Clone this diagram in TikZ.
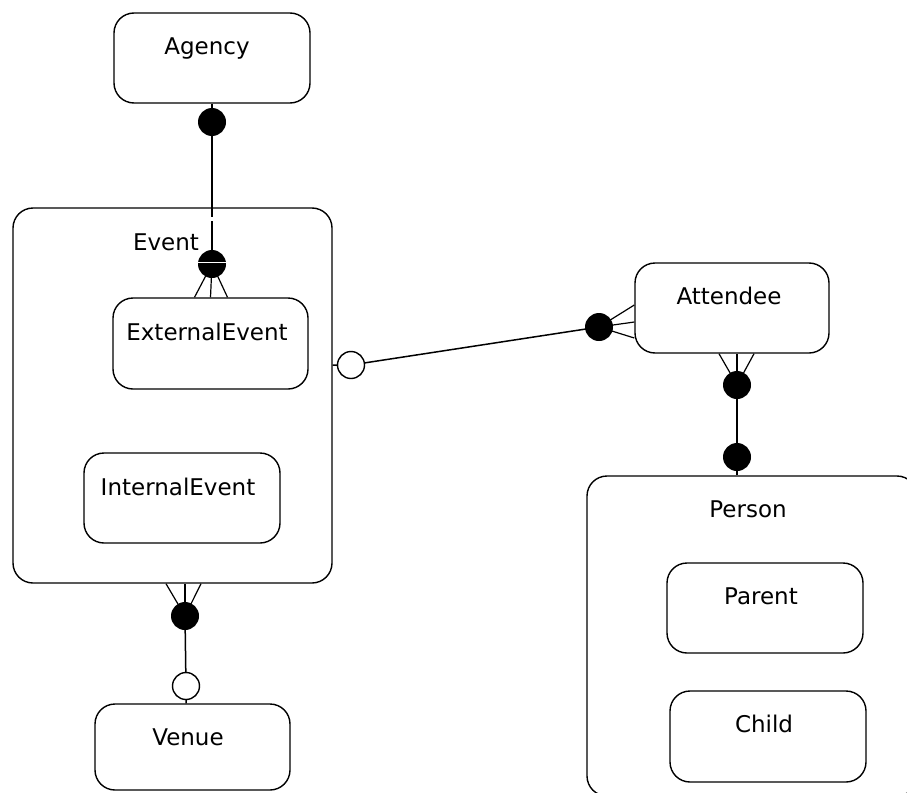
\documentclass[tikz,border=0pt]{standalone}
\usepackage{fontspec}
\setmainfont{DejaVu Sans}
\pgfdeclarelayer{bg}
\pgfsetlayers{bg,main}
\begin{document}
\begin{tikzpicture}[x=1pt,y=-1pt,
  box/.style={draw, line width=1.4pt, rounded corners=20pt, inner sep=0pt},
  txt/.style={font=\fontsize{23}{25}\selectfont, inner sep=0pt, anchor=base},
  one/.style={circle, fill=black, minimum size=28pt, inner sep=0pt},
  zero/.style={circle, draw, fill=white, line width=1.4pt, minimum size=27pt, inner sep=0pt},
  link/.style={line width=1.5pt},
  foot/.style={line width=1.2pt}]
\useasboundingbox (0,0) rectangle (907,792);
\clip (0,0) rectangle (907,792);

% entities
\node[box, minimum width=196pt, minimum height=90pt]  (agency)   at (212,58)    {};
\node[box, minimum width=319pt, minimum height=375pt] (event)    at (172.5,395.5) {};
\node[box, minimum width=195pt, minimum height=91pt]  (ext)      at (210.5,343.5) {};
\node[box, minimum width=196pt, minimum height=90pt]  (int)      at (182,498)   {};
\node[box, minimum width=195pt, minimum height=86pt]  (venue)    at (192.5,747) {};
\node[box, minimum width=194pt, minimum height=90pt]  (attendee) at (732,308)   {};
\node[box, minimum width=330pt, minimum height=320pt] (person)   at (752,636)   {};
\node[box, minimum width=196pt, minimum height=90pt]  (parent)   at (765,608)   {};
\node[box, minimum width=196pt, minimum height=91pt]  (child)    at (768,736.5) {};

% entity names
\node[txt] (agency-t)   at (207,55)  {Agency};
\node[txt] (event-t)    at (166,250) {Event};
\node[txt] (ext-t)      at (207,340) {ExternalEvent};
\node[txt] (int-t)      at (178,495) {InternalEvent};
\node[txt] (venue-t)    at (188,745) {Venue};
\node[txt] (attendee-t) at (729,304) {Attendee};
\node[txt] (person-t)   at (748,517) {Person};
\node[txt] (parent-t)   at (761,604) {Parent};
\node[txt] (child-t)    at (764,732) {Child};

% cardinality markers
\node[one]  (agA)  at (212,122) {};
\node[one]  (agE)  at (212,264) {};
\node[zero] (evO)  at (351,365) {};
\node[one]  (attL) at (599,327) {};
\node[one]  (attB) at (737,385) {};
\node[one]  (perT) at (737,457) {};
\node[one]  (evB)  at (185,616) {};
\node[zero] (venO) at (186,686) {};

% bar across the mandatory-one marker
\draw[white, line width=1.6pt] ([yshift=1.5pt]agE.west) -- ([yshift=1.5pt]agE.east);

\coordinate (attS) at (attB |- attendee.south);
\coordinate (evS)  at (evB |- event.south);
\coordinate (gap)  at (agA |- event.north);

\begin{pgfonlayer}{bg}
  % Agency -- ExternalEvent
  \draw[link] (agency.south) -- (agE.center);
  \draw[foot] (agE.center) -- ([xshift=-16pt]ext.north);
  \draw[foot] (agE.center) -- (ext.north);
  \draw[foot] (agE.center) -- ([xshift=17pt]ext.north);
  % Event -- Attendee
  \draw[link] (event.east |- evO) -- (evO.center) -- (attL.center);
  \draw[foot] (attL.center) -- ([yshift=3pt]attendee.west);
  \draw[foot] (attL.center) -- ([yshift=-14pt]attendee.west);
  \draw[foot] (attL.center) -- ([yshift=-30pt]attendee.west);
  % Attendee -- Person
  \draw[foot] (attB.center) -- ([xshift=-18pt]attS);
  \draw[foot] (attB.center) -- (attS);
  \draw[foot] (attB.center) -- ([xshift=17pt]attS);
  \draw[link] (attB.center) -- (perT.center) -- (perT |- person.north);
  % Event -- Venue
  \draw[foot] (evB.center) -- ([xshift=-19pt]evS);
  \draw[foot] (evB.center) -- (evS);
  \draw[foot] (evB.center) -- ([xshift=16pt]evS);
  \draw[link] (evB.center) -- (venO.center) -- (venO |- venue.north);
\end{pgfonlayer}

% small break in the line below the Event border
\draw[white, line width=2pt] ([yshift=-10pt]gap) -- ([yshift=-14pt]gap);
\end{tikzpicture}
\end{document}
